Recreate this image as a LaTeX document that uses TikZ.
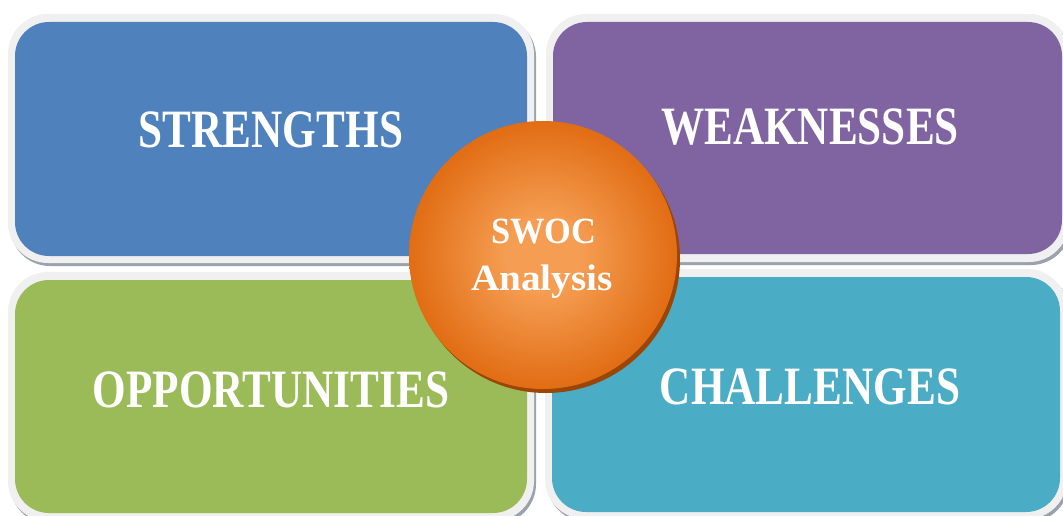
\documentclass[tikz,border=0pt]{standalone}
\usepackage{fontspec}
\setmainfont{Liberation Serif}
\usepackage{graphicx}
\definecolor{sblue}{HTML}{4F81BD}
\definecolor{spurple}{HTML}{8064A2}
\definecolor{sgreen}{HTML}{9BBB59}
\definecolor{steal}{HTML}{4BACC6}
\definecolor{bord}{HTML}{F0F0F0}
\definecolor{shad}{HTML}{9AA3AD}
\definecolor{orlight}{HTML}{F59D52}
\definecolor{ordark}{HTML}{E06A10}
\definecolor{orshadow}{HTML}{9C4606}
\pgfdeclareradialshading{orb}{\pgfpoint{0bp}{0bp}}{color(0bp)=(orlight); color(7bp)=(orlight); color(26bp)=(ordark); color(50bp)=(ordark)}
\newcommand\sqz[1]{\scalebox{0.8}[1]{#1}}
\begin{document}
\begin{tikzpicture}[x=1pt,y=-1pt,
  shadowbox/.style={fill=shad, rounded corners=40pt},
  borderbox/.style={fill=bord, rounded corners=40pt},
  innerbox/.style={rounded corners=34pt},
  biglabel/.style={text=white, font=\fontsize{54}{54}\selectfont\bfseries, anchor=base, inner sep=0pt},
  midlabel/.style={text=white, font=\fontsize{37}{37}\selectfont\bfseries, anchor=base, inner sep=0pt}]
\useasboundingbox (0,0) rectangle (1063,516);
\clip (0,0) rectangle (1063,516);
\fill[white] (0,0) rectangle (1063,516);
% top left
\fill[shadowbox] (10,17) rectangle (536,266);
\fill[borderbox] (8,14) rectangle (534,263);
\fill[innerbox, fill=sblue] (15,22) rectangle (527,256);
% top right
\fill[shadowbox] (548,17) rectangle (1071,265);
\fill[borderbox] (546,14) rectangle (1069,262);
\fill[innerbox, fill=spurple] (553,22) rectangle (1062,254);
% bottom left
\fill[shadowbox] (10,275) rectangle (536,524);
\fill[borderbox] (8,272) rectangle (534,521);
\fill[innerbox, fill=sgreen] (15,280) rectangle (527,513);
% bottom right
\fill[shadowbox] (547,272) rectangle (1069,522);
\fill[borderbox] (545,269) rectangle (1067,519);
\fill[innerbox, fill=steal] (552,277) rectangle (1060,512);
% labels
\node[biglabel] (s) at (271,147) {\sqz{STRENGTHS}};
\node[biglabel] (w) at (810,145) {\sqz{WEAKNESSES}};
\node[biglabel] (o) at (271,407) {\sqz{OPPORTUNITIES}};
\node[biglabel] (ch) at (810,404) {\sqz{CHALLENGES}};
% centre circle
\fill[orshadow] (546,259) circle (134);
\node[circle, minimum size=268pt, inner sep=0pt, shading=orb] (c) at (543,255) {};
\node[midlabel] (swoc) at (544,243) {\scalebox{0.93}[1]{SWOC}};
\node[midlabel] (an) at (542,290) {\scalebox{1.06}[1]{Analysis}};
\end{tikzpicture}
\end{document}
